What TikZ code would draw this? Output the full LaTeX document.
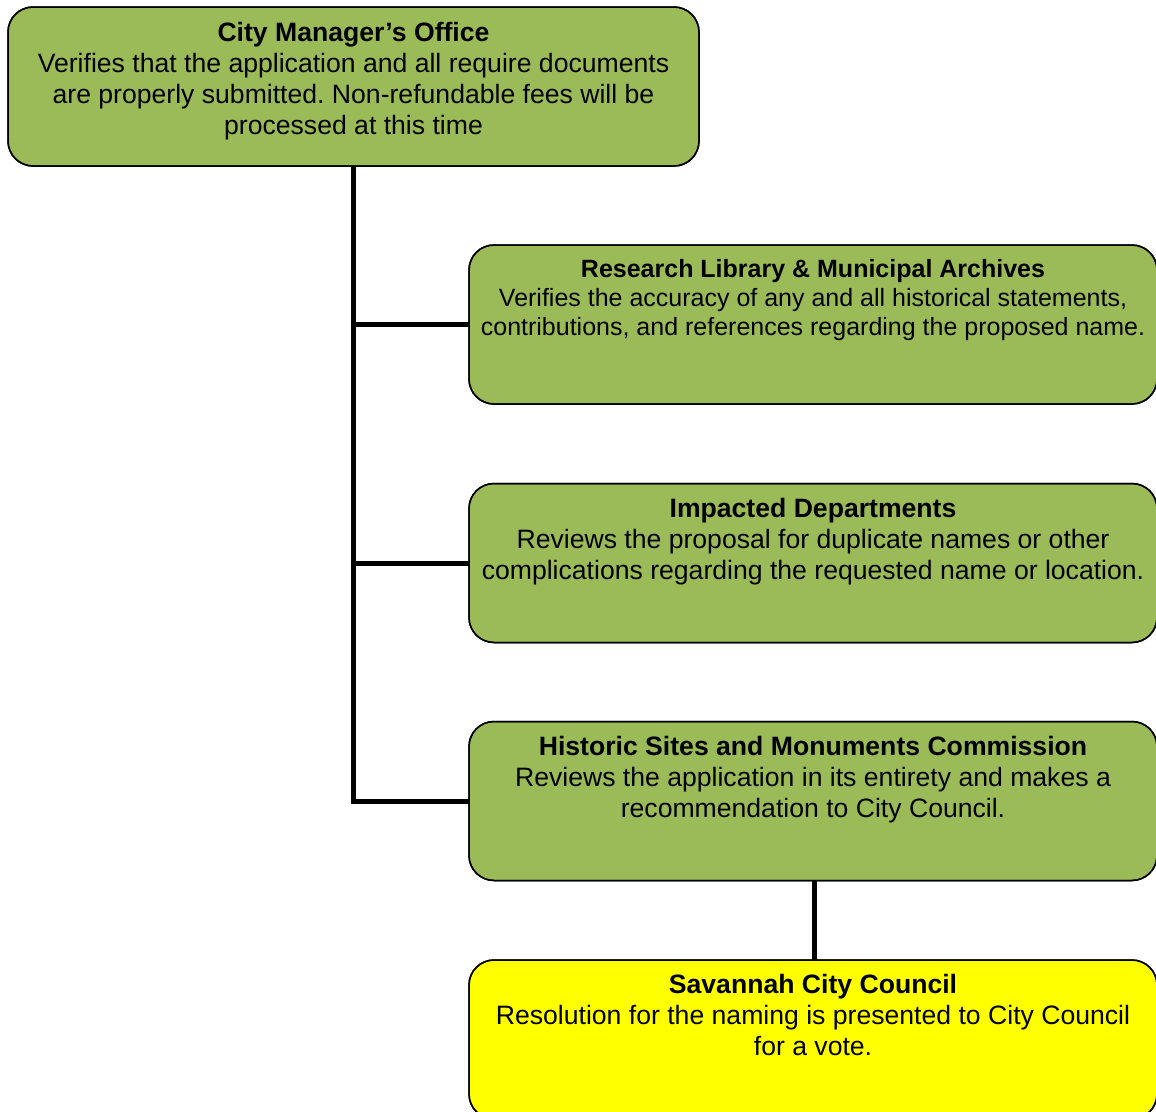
\documentclass[tikz,border=0pt]{standalone}
\usepackage{fontspec}
\setmainfont{Liberation Sans}
\frenchspacing
\definecolor{boxgreen}{HTML}{9BBB59}
\definecolor{boxyellow}{HTML}{FFFF00}
\begin{document}
\begin{tikzpicture}[x=1pt,y=-1pt,
  box/.style={draw=black,line width=1.5pt,rounded corners=25pt,fill=boxgreen,inner sep=0pt,outer sep=0pt},
  rbox/.style={box,minimum width=688pt,minimum height=159pt},
  txt/.style={align=center,inner sep=0pt,anchor=base,font=\fontsize{26.6}{31}\selectfont},
  smalltxt/.style={txt,font=\fontsize{25}{28.8}\selectfont},
  conn/.style={line width=5pt,line join=miter,draw=black}]
\useasboundingbox (0,0) rectangle (1156,1111);
\clip (0,0) rectangle (1156,1111);
\fill[white] (0,0) rectangle (1156,1111);
% boxes
\node[box,minimum width=691pt,minimum height=159pt] (top) at (353.5,86.5) {};
\node[rbox] (b1) at (813,324.5) {};
\node[rbox] (b2) at (813,563) {};
\node[rbox] (b3) at (813,801) {};
\node[rbox,fill=boxyellow] (b4) at (813,1039.5) {};
% connectors
\draw[conn] (top.south) |- (b3.west);
\draw[conn] (top.south |- b1.west) -- (b1.west);
\draw[conn] (top.south |- b2.west) -- (b2.west);
\draw[conn] ([xshift=1.5pt]b3.south) -- ([xshift=1.5pt]b4.north);
% redraw box borders over connector ends
\draw[line width=1.5pt,rounded corners=25pt] (top.south west) rectangle (top.north east);
\draw[line width=1.5pt,rounded corners=25pt] (b1.south west) rectangle (b1.north east);
\draw[line width=1.5pt,rounded corners=25pt] (b2.south west) rectangle (b2.north east);
\draw[line width=1.5pt,rounded corners=25pt] (b3.south west) rectangle (b3.north east);
\draw[line width=1.5pt,rounded corners=25pt] (b4.south west) rectangle (b4.north east);
% texts (anchor = baseline of last line)
\node[txt] (ttop) at (353.5,134) {\textbf{City Manager’s Office}\\Verifies that the application and all require documents\\are properly submitted. Non-refundable fees will be\\processed at this time};
\node[smalltxt] (t1) at (813,335.3) {\textbf{Research Library \& Municipal Archives}\\Verifies the accuracy of any and all historical statements,\\contributions, and references regarding the proposed name.};
\node[txt] (t2) at (813,579.5) {\textbf{Impacted Departments}\\Reviews the proposal for duplicate names or other\\complications regarding the requested name or location.};
\node[txt] (t3) at (813,817.5) {\textbf{Historic Sites and Monuments Commission}\\Reviews the application in its entirety and makes a\\recommendation to City Council.};
\node[txt] (t4) at (813,1055.5) {\textbf{Savannah City Council}\\Resolution for the naming is presented to City Council\\for a vote.};
\end{tikzpicture}
\end{document}
